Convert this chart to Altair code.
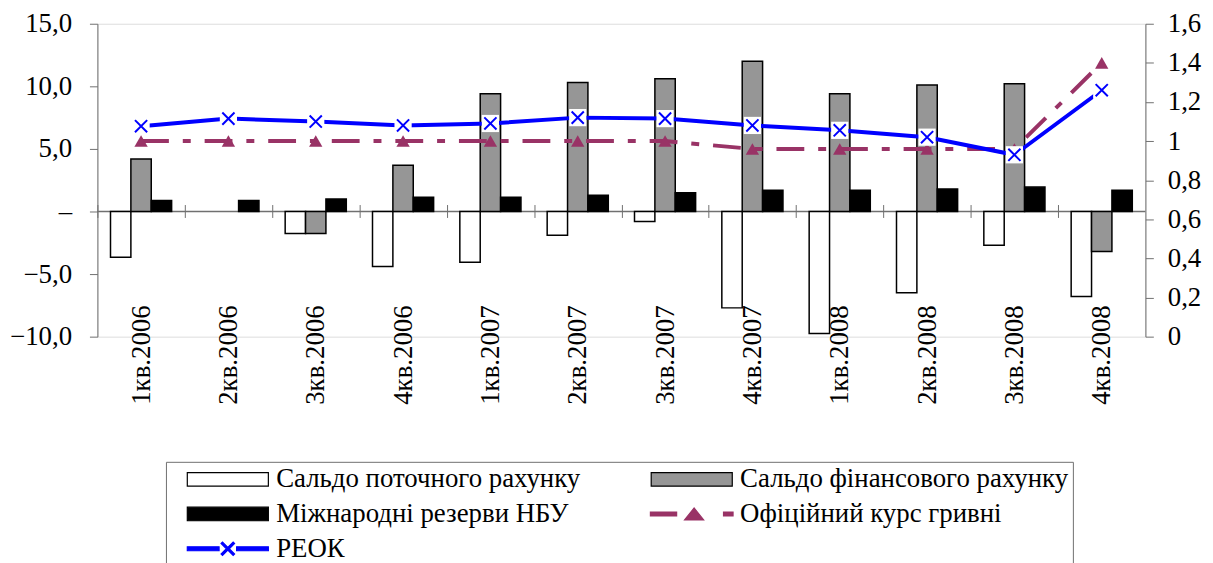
import altair as alt
import pandas as pd

quarters = ["1кв.2006", "2кв.2006", "3кв.2006", "4кв.2006",
            "1кв.2007", "2кв.2007", "3кв.2007", "4кв.2007",
            "1кв.2008", "2кв.2008", "3кв.2008", "4кв.2008"]
current_account = [-3.65, None, -1.75, -4.4, -4.05, -1.9, -0.8, -7.7, -9.75, -6.5, -2.7, -6.8]
financial_account = [4.2, None, -1.75, 3.7, 9.4, 10.3, 10.6, 12.0, 9.4, 10.1, 10.2, -3.2]
nbu_reserves = [0.87, 0.87, 1.0, 1.13, 1.13, 1.3, 1.5, 1.7, 1.7, 1.8, 1.95, 1.7]
official_rate = [1.0, 1.0, 1.0, 1.0, 1.0, 1.0, 1.0, 0.96, 0.96, 0.96, 0.96, 1.40]
reer = [1.076, 1.115, 1.10, 1.08, 1.09, 1.12, 1.115, 1.08, 1.055, 1.02, 0.93, 1.26]

bar_names = ["Сальдо поточного рахунку", "Сальдо фінансового рахунку", "Міжнародні резерви НБУ"]
line_names = ["Офіційний курс гривні", "РЕОК"]
# legend is filled column by column: left column first, then right column
legend_items = [bar_names[0], bar_names[2], line_names[1], bar_names[1], line_names[0]]

FONT = "Liberation Serif, Times New Roman, serif"
FS = 27
AXC = "#707070"
PURPLE = "#993366"
BLUE = "#0000FF"

# ---- tables built from the arrays ----
bar_rows = []
for name, vals in zip(bar_names, [current_account, financial_account, nbu_reserves]):
    for q, v in zip(quarters, vals):
        bar_rows.append({"quarter": q, "series": name, "value": v})
bars_df = pd.DataFrame(bar_rows)
lines_df = pd.DataFrame({"quarter": quarters, "rate": official_rate, "reer": reer})
legend_df = pd.DataFrame({"item": legend_items})
zero_df = pd.DataFrame({"z": [0]})

W, H = 1055, 315
STEP = W / 12.0

x_enc = alt.X(
    "quarter:N", sort=quarters, title=None,
    scale=alt.Scale(domain=quarters, paddingInner=0.3, paddingOuter=0.15),
    axis=alt.Axis(orient="bottom", offset=-133, domain=False, ticks=True,
                  tickOffset=-STEP / 2, labelOffset=STEP / 2,
                  tickSize=13, tickColor=AXC, tickWidth=1,
                  labelAngle=-90, labelAlign="right", labelBaseline="middle",
                  labelPadding=88, labelFont=FONT, labelFontSize=FS,
                  labelColor="black", title=None, grid=False),
)

y_left_axis = alt.Axis(
    orient="left", values=[-10, -5, 0, 5, 10, 15], title=None, grid=False,
    labelExpr="datum.value == 0 ? '–' : replace(format(datum.value, '.1f'), '.', ',')",
    domainColor=AXC, tickColor=AXC, tickSize=8, labelPadding=18,
    labelFont=FONT, labelFontSize=FS, labelColor="black",
)
y_left_scale = alt.Scale(domain=[-10, 15], nice=False, zero=False)

y_right_axis = alt.Axis(
    orient="right", values=[0, 0.2, 0.4, 0.6, 0.8, 1, 1.2, 1.4, 1.6], title=None, grid=False,
    labelExpr="replace(format(datum.value, '.1~f'), '.', ',')",
    domainColor=AXC, tickColor=AXC, tickSize=8, labelPadding=14,
    labelFont=FONT, labelFontSize=FS, labelColor="black",
)
y_right_scale = alt.Scale(domain=[0, 1.6], nice=False, zero=False)

xoff = alt.XOffset("series:N", sort=bar_names,
                   scale=alt.Scale(domain=bar_names, paddingInner=0, paddingOuter=0))

zero_rule = alt.Chart(zero_df).mark_rule(color=AXC, strokeWidth=1.5).encode(
    y=alt.Y("z:Q", scale=y_left_scale, axis=y_left_axis)
)

bar_fills = {bar_names[0]: "white", bar_names[1]: "#969696", bar_names[2]: "black"}
bar_layers = []
for name in bar_names:
    bar_layers.append(
        alt.Chart(bars_df).transform_filter(alt.datum.series == name)
        .mark_bar(fill=bar_fills[name], stroke="black", strokeWidth=1.5)
        .encode(x=x_enc, xOffset=xoff,
                y=alt.Y("value:Q", scale=y_left_scale, axis=y_left_axis))
    )
bars_group = alt.layer(zero_rule, *bar_layers)

base_l = alt.Chart(lines_df)
rate_line = base_l.mark_line(color=PURPLE, strokeWidth=4, strokeDash=[28, 14, 8, 14]).encode(
    x=x_enc, y=alt.Y("rate:Q", scale=y_right_scale, axis=y_right_axis))
rate_pts = base_l.mark_point(shape="triangle-up", filled=True, size=180, color=PURPLE, opacity=1).encode(
    x=x_enc, y=alt.Y("rate:Q", scale=y_right_scale, axis=y_right_axis))
reer_line = base_l.mark_line(color=BLUE, strokeWidth=4).encode(
    x=x_enc, y=alt.Y("reer:Q", scale=y_right_scale, axis=y_right_axis))
reer_box = base_l.mark_point(shape="square", filled=True, size=300, color="white", opacity=1).encode(
    x=x_enc, y=alt.Y("reer:Q", scale=y_right_scale, axis=y_right_axis))
reer_x = base_l.mark_point(shape="M-1,-1L1,1M-1,1L1,-1", filled=False, size=150,
                           color=BLUE, strokeWidth=2, opacity=1).encode(
    x=x_enc, y=alt.Y("reer:Q", scale=y_right_scale, axis=y_right_axis))

# legend symbols (drawn only in the legend); unit = 8 px, shifted right of the nominal symbol
c = 5.6
a, w = 0.85, 0.18
x_path = (f"M{c - a},{-a + w}L{c - a + w},{-a}L{c},{-w}L{c + a - w},{-a}L{c + a},{-a + w}L{c + w},0"
          f"L{c + a},{a - w}L{c + a - w},{a}L{c},{w}L{c - a + w},{a}L{c - a},{a - w}L{c - w},0Z")
rect_path = "M0.5,-0.85H10.7V0.85H0.5Z"
rate_path = "M0.4,-0.25H3.7V0.25H0.4Z M4.7,0.75L5.9,-0.75L7.1,0.75Z M9.6,-0.25H10.8V0.25H9.6Z"
reer_path = "M0.5,-0.25H4.5V0.25H0.5Z M6.7,-0.25H10.7V0.25H6.7Z " + x_path
path_of = {bar_names[0]: rect_path, bar_names[1]: rect_path, bar_names[2]: rect_path,
           line_names[0]: rate_path, line_names[1]: reer_path}
fill_of = {bar_names[0]: "white", bar_names[1]: "#969696", bar_names[2]: "black",
           line_names[0]: PURPLE, line_names[1]: BLUE}
stroke_of = {bar_names[0]: "black", bar_names[1]: "black", bar_names[2]: "black",
             line_names[0]: PURPLE, line_names[1]: BLUE}

leg = alt.Legend(
    orient="none", legendX=69, legendY=441, columns=2, title=None,
    labelFont=FONT, labelFontSize=FS, labelColor="black", labelLimit=0,
    symbolSize=256, symbolStrokeWidth=1.2, labelOffset=80,
    columnPadding=53, rowPadding=7, padding=4, strokeColor=AXC,
)
legend_layer = alt.Chart(legend_df).transform_filter("false").mark_point(filled=True, opacity=1).encode(
    shape=alt.Shape("item:N", sort=legend_items, legend=leg,
                    scale=alt.Scale(domain=legend_items, range=[path_of[i] for i in legend_items])),
    fill=alt.Fill("item:N", sort=legend_items, legend=leg,
                  scale=alt.Scale(domain=legend_items, range=[fill_of[i] for i in legend_items])),
    stroke=alt.Stroke("item:N", sort=legend_items, legend=leg,
                      scale=alt.Scale(domain=legend_items, range=[stroke_of[i] for i in legend_items])),
)

lines_group = alt.layer(rate_line, rate_pts, reer_line, reer_box, reer_x, legend_layer)

chart = (
    alt.layer(bars_group, lines_group)
    .resolve_scale(y="independent")
    .properties(width=W, height=H,
                padding={"left": 90, "top": 14, "right": 60, "bottom": 226},
                autosize=alt.AutoSizeParams(type="none"))
    .configure_view(stroke=None)
    .configure(font=FONT)
)

chart.save("out.html", embed_options={"renderer": "svg", "actions": False})
